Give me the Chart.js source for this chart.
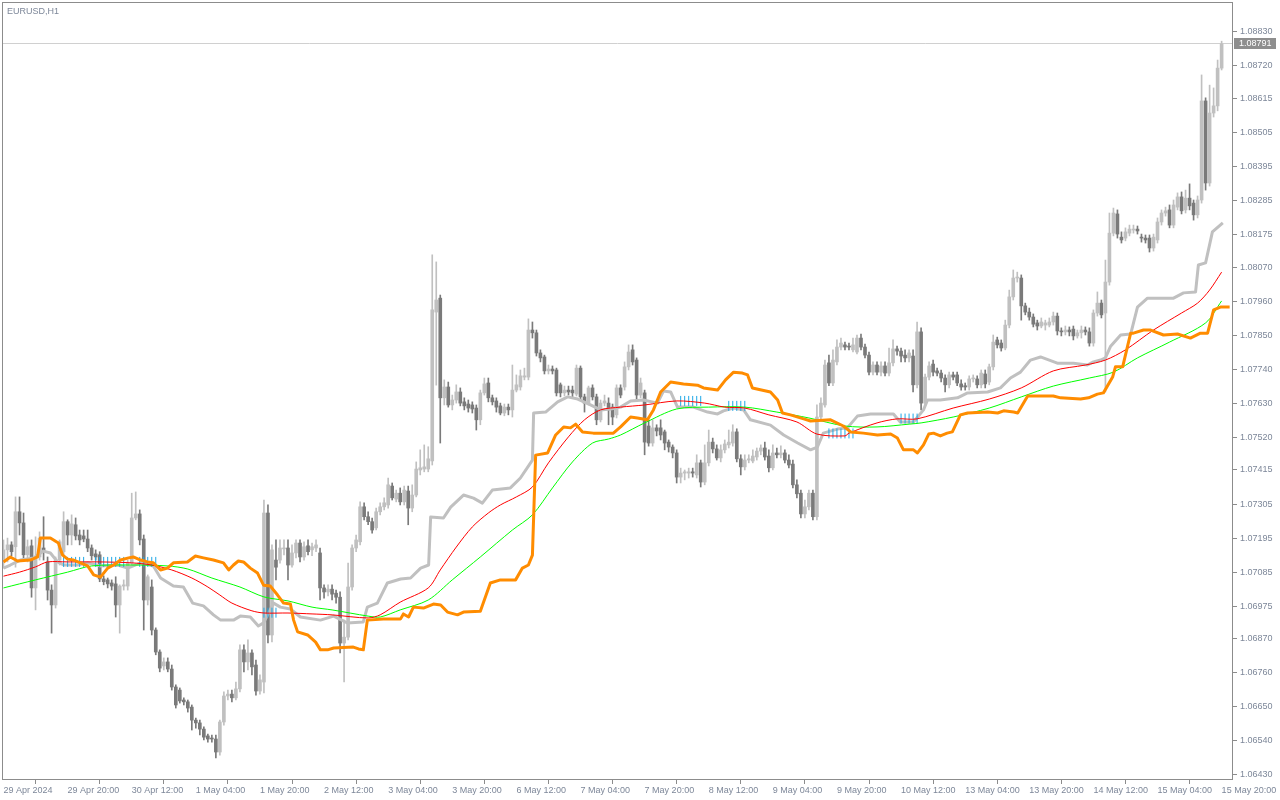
<!DOCTYPE html>
<html lang="en">
<head>
<meta charset="UTF-8">
<title>EURUSD,H1</title>
<script src="https://cdn.jsdelivr.net/npm/chart.js"></script>
<style>
  html, body { margin: 0; padding: 0; background: #ffffff; }
  #wrap { width: 1280px; height: 800px; }
</style>
</head>
<body>
<div id="wrap"><canvas id="chart" width="1280" height="800"></canvas></div>
<script>
// ---- data (EURUSD H1, 29 Apr 04:00 .. 15 May 20:00) ----
const symbolTitle = 'EURUSD,H1';

const xTickBars = [0, 16, 32, 48, 64, 80, 96, 112, 128, 144, 160, 176, 192, 208, 224, 240, 256, 272, 288, 304];
const xTickLabels = ['29 Apr 2024', '29 Apr 20:00', '30 Apr 12:00', '1 May 04:00', '1 May 20:00', '2 May 12:00',
  '3 May 04:00', '3 May 20:00', '6 May 12:00', '7 May 04:00', '7 May 20:00', '8 May 12:00', '9 May 04:00',
  '9 May 20:00', '10 May 12:00', '13 May 04:00', '13 May 20:00', '14 May 12:00', '15 May 04:00', '15 May 20:00'];

const yTickValues = [1.08830, 1.08720, 1.08615, 1.08505, 1.08395, 1.08285, 1.08175, 1.08070, 1.07960, 1.07850,
  1.07740, 1.07630, 1.07520, 1.07415, 1.07305, 1.07195, 1.07085, 1.06975, 1.06870, 1.06760, 1.06650, 1.06540, 1.06430];

const opens = [
1.07124,1.07157,1.07173,1.07167,1.07280,1.07244,1.07141,1.07170,1.07034,1.07134,
1.07163,1.07118,1.07027,1.06979,1.07124,1.07151,1.07248,1.07205,1.07238,1.07205,
1.07202,1.07192,1.07163,1.07144,1.07141,1.07063,1.07060,1.07050,1.07047,1.06979,
1.07040,1.07040,1.07114,1.07260,1.07273,1.07192,1.06995,1.07037,1.06898,1.06827,
1.06782,1.06795,1.06772,1.06714,1.06704,1.06672,1.06666,1.06649,1.06607,1.06598,
1.06578,1.06556,1.06549,1.06546,1.06504,1.06601,1.06685,1.06691,1.06679,1.06708,
1.06834,1.06795,1.06824,1.06785,1.06701,1.06730,1.07276,1.06882,1.07124,1.07124,
1.07160,1.07163,1.07108,1.07147,1.07179,1.07134,1.07170,1.07157,1.07163,1.07147,
1.07034,1.07021,1.07030,1.07017,1.07004,1.06856,1.06875,1.07037,1.07163,1.07183,
1.07296,1.07264,1.07248,1.07228,1.07280,1.07296,1.07302,1.07363,1.07321,1.07340,
1.07312,1.07347,1.07292,1.07334,1.07415,1.07418,1.07418,1.07444,1.07925,1.07970,
1.07648,1.07683,1.07625,1.07641,1.07667,1.07635,1.07628,1.07625,1.07615,1.07577,
1.07664,1.07696,1.07648,1.07638,1.07622,1.07599,1.07618,1.07609,1.07673,1.07683,
1.07715,1.07715,1.07867,1.07858,1.07793,1.07780,1.07735,1.07741,1.07738,1.07690,
1.07664,1.07673,1.07673,1.07660,1.07744,1.07651,1.07631,1.07680,1.07651,1.07577,
1.07631,1.07631,1.07618,1.07593,1.07680,1.07683,1.07748,1.07803,1.07770,1.07657,
1.07664,1.07557,1.07502,1.07551,1.07551,1.07538,1.07505,1.07489,1.07470,1.07392,
1.07405,1.07405,1.07409,1.07399,1.07438,1.07376,1.07438,1.07505,1.07483,1.07454,
1.07480,1.07496,1.07502,1.07538,1.07451,1.07425,1.07447,1.07444,1.07457,1.07476,
1.07486,1.07460,1.07422,1.07470,1.07464,1.07470,1.07447,1.07434,1.07367,1.07340,
1.07273,1.07296,1.07340,1.07264,1.07586,1.07625,1.07761,1.07696,1.07764,1.07812,
1.07819,1.07815,1.07803,1.07796,1.07841,1.07812,1.07786,1.07731,1.07754,1.07731,
1.07751,1.07728,1.07761,1.07806,1.07799,1.07786,1.07777,1.07783,1.07690,1.07861,
1.07631,1.07715,1.07757,1.07735,1.07728,1.07712,1.07690,1.07722,1.07722,1.07693,
1.07687,1.07683,1.07709,1.07709,1.07690,1.07725,1.07699,1.07748,1.07835,1.07825,
1.07809,1.07883,1.07974,1.08035,1.08035,1.07945,1.07925,1.07909,1.07890,1.07880,
1.07883,1.07883,1.07893,1.07912,1.07864,1.07861,1.07867,1.07870,1.07848,1.07858,
1.07867,1.07861,1.07825,1.07922,1.07954,1.07922,1.08022,1.08180,1.08242,1.08167,
1.08164,1.08180,1.08190,1.08193,1.08167,1.08164,1.08164,1.08132,1.08158,1.08216,
1.08245,1.08255,1.08206,1.08264,1.08297,1.08255,1.08293,1.08277,1.08239,1.08287,
1.08607,1.08342,1.08568,1.08591,1.08713];

const highs = [
1.07189,1.07195,1.07183,1.07328,1.07328,1.07276,1.07189,1.07189,1.07199,1.07215,
1.07264,1.07134,1.07044,1.07134,1.07189,1.07280,1.07254,1.07270,1.07260,1.07221,
1.07221,1.07221,1.07173,1.07157,1.07151,1.07073,1.07066,1.07060,1.07070,1.07044,
1.07060,1.07124,1.07340,1.07344,1.07286,1.07205,1.07076,1.07060,1.06905,1.06834,
1.06808,1.06808,1.06785,1.06721,1.06711,1.06679,1.06672,1.06656,1.06614,1.06607,
1.06585,1.06562,1.06559,1.06559,1.06607,1.06698,1.06704,1.06704,1.06730,1.06850,
1.06850,1.06866,1.06834,1.06801,1.06753,1.07318,1.07302,1.07173,1.07189,1.07189,
1.07189,1.07189,1.07173,1.07189,1.07189,1.07183,1.07189,1.07179,1.07189,1.07163,
1.07044,1.07044,1.07044,1.07027,1.07021,1.06930,1.07114,1.07173,1.07205,1.07312,
1.07309,1.07280,1.07260,1.07292,1.07309,1.07325,1.07389,1.07373,1.07350,1.07357,
1.07363,1.07363,1.07367,1.07441,1.07480,1.07496,1.07490,1.08110,1.08087,1.07980,
1.07706,1.07699,1.07657,1.07690,1.07680,1.07648,1.07641,1.07635,1.07625,1.07673,
1.07712,1.07712,1.07657,1.07648,1.07631,1.07628,1.07628,1.07754,1.07722,1.07738,
1.07744,1.07903,1.07893,1.07867,1.07803,1.07786,1.07754,1.07751,1.07744,1.07696,
1.07686,1.07686,1.07686,1.07754,1.07751,1.07660,1.07686,1.07690,1.07660,1.07641,
1.07657,1.07648,1.07628,1.07690,1.07690,1.07764,1.07819,1.07819,1.07777,1.07712,
1.07673,1.07577,1.07577,1.07561,1.07577,1.07544,1.07512,1.07496,1.07480,1.07421,
1.07415,1.07421,1.07421,1.07464,1.07447,1.07496,1.07544,1.07518,1.07496,1.07496,
1.07512,1.07544,1.07561,1.07548,1.07464,1.07464,1.07464,1.07480,1.07486,1.07496,
1.07505,1.07480,1.07496,1.07486,1.07493,1.07480,1.07464,1.07447,1.07383,1.07350,
1.07318,1.07350,1.07350,1.07625,1.07648,1.07770,1.07786,1.07803,1.07835,1.07841,
1.07828,1.07825,1.07841,1.07851,1.07854,1.07822,1.07796,1.07764,1.07764,1.07764,
1.07764,1.07809,1.07835,1.07815,1.07809,1.07803,1.07803,1.07803,1.07893,1.07874,
1.07725,1.07764,1.07770,1.07744,1.07738,1.07722,1.07731,1.07731,1.07731,1.07706,
1.07696,1.07719,1.07722,1.07719,1.07738,1.07738,1.07757,1.07851,1.07844,1.07835,
1.07899,1.07996,1.08061,1.08054,1.08045,1.07954,1.07938,1.07919,1.07899,1.07906,
1.07899,1.07906,1.07925,1.07922,1.07874,1.07880,1.07877,1.07880,1.07867,1.07880,
1.07877,1.07874,1.07932,1.07990,1.07964,1.08093,1.08245,1.08261,1.08255,1.08184,
1.08197,1.08206,1.08206,1.08203,1.08177,1.08174,1.08174,1.08177,1.08229,1.08255,
1.08264,1.08271,1.08287,1.08310,1.08313,1.08319,1.08339,1.08287,1.08300,1.08691,
1.08617,1.08658,1.08649,1.08739,1.08800];

const lows = [
1.07098,1.07118,1.07138,1.07101,1.07205,1.07124,1.07118,1.07004,1.06963,1.07124,
1.07124,1.06995,1.06888,1.06969,1.07108,1.07141,1.07173,1.07173,1.07189,1.07173,
1.07183,1.07151,1.07124,1.07124,1.07054,1.07044,1.07034,1.07027,1.06940,1.06888,
1.07027,1.07027,1.07108,1.07254,1.07173,1.06898,1.06979,1.06882,1.06818,1.06763,
1.06769,1.06763,1.06704,1.06646,1.06662,1.06656,1.06633,1.06575,1.06581,1.06559,
1.06543,1.06536,1.06536,1.06485,1.06494,1.06591,1.06672,1.06666,1.06672,1.06698,
1.06763,1.06769,1.06753,1.06688,1.06691,1.06695,1.06856,1.06860,1.07060,1.07114,
1.07141,1.07060,1.07101,1.07131,1.07118,1.07124,1.07141,1.07138,1.07151,1.06995,
1.07001,1.07008,1.06995,1.06985,1.06824,1.06730,1.06866,1.07027,1.07151,1.07173,
1.07254,1.07238,1.07211,1.07221,1.07270,1.07286,1.07292,1.07318,1.07312,1.07302,
1.07302,1.07238,1.07280,1.07328,1.07399,1.07409,1.07409,1.07431,1.07689,1.07502,
1.07625,1.07618,1.07609,1.07631,1.07622,1.07609,1.07602,1.07599,1.07544,1.07561,
1.07657,1.07635,1.07625,1.07602,1.07593,1.07590,1.07593,1.07586,1.07667,1.07673,
1.07706,1.07706,1.07841,1.07783,1.07764,1.07725,1.07725,1.07725,1.07654,1.07651,
1.07654,1.07657,1.07648,1.07654,1.07641,1.07602,1.07625,1.07641,1.07561,1.07570,
1.07622,1.07561,1.07561,1.07583,1.07648,1.07673,1.07738,1.07754,1.07641,1.07648,
1.07464,1.07492,1.07492,1.07525,1.07512,1.07480,1.07473,1.07454,1.07373,1.07373,
1.07383,1.07389,1.07392,1.07389,1.07360,1.07367,1.07428,1.07470,1.07447,1.07441,
1.07470,1.07486,1.07492,1.07441,1.07399,1.07415,1.07438,1.07438,1.07447,1.07464,
1.07447,1.07409,1.07415,1.07454,1.07454,1.07438,1.07422,1.07357,1.07325,1.07260,
1.07260,1.07286,1.07254,1.07254,1.07577,1.07618,1.07687,1.07687,1.07754,1.07803,
1.07803,1.07803,1.07796,1.07790,1.07803,1.07777,1.07722,1.07722,1.07722,1.07719,
1.07719,1.07719,1.07751,1.07786,1.07764,1.07764,1.07764,1.07667,1.07680,1.07609,
1.07622,1.07706,1.07719,1.07719,1.07699,1.07667,1.07680,1.07706,1.07687,1.07673,
1.07673,1.07673,1.07699,1.07680,1.07680,1.07680,1.07690,1.07738,1.07809,1.07799,
1.07803,1.07874,1.07964,1.08022,1.07899,1.07916,1.07899,1.07877,1.07867,1.07874,
1.07867,1.07877,1.07883,1.07851,1.07848,1.07851,1.07848,1.07835,1.07841,1.07841,
1.07851,1.07815,1.07815,1.07912,1.07906,1.07667,1.08012,1.08171,1.08164,1.08148,
1.08155,1.08171,1.08180,1.08177,1.08151,1.08148,1.08119,1.08122,1.08148,1.08206,
1.08235,1.08197,1.08197,1.08255,1.08242,1.08245,1.08255,1.08222,1.08229,1.08277,
1.08319,1.08332,1.08555,1.08575,1.08707];

const closes = [
1.07157,1.07173,1.07151,1.07280,1.07244,1.07141,1.07167,1.07034,1.07134,1.07195,
1.07151,1.07027,1.06979,1.07124,1.07183,1.07248,1.07205,1.07241,1.07202,1.07189,
1.07192,1.07163,1.07138,1.07134,1.07063,1.07054,1.07047,1.07040,1.06979,1.07040,
1.07044,1.07114,1.07260,1.07273,1.07189,1.06995,1.07070,1.06898,1.06827,1.06775,
1.06795,1.06772,1.06714,1.06656,1.06669,1.06666,1.06646,1.06607,1.06598,1.06578,
1.06552,1.06546,1.06546,1.06504,1.06601,1.06685,1.06691,1.06679,1.06708,1.06834,
1.06795,1.06824,1.06779,1.06701,1.06737,1.07276,1.06882,1.07157,1.07101,1.07163,
1.07163,1.07108,1.07147,1.07179,1.07134,1.07167,1.07151,1.07167,1.07173,1.07034,
1.07021,1.07030,1.07014,1.07004,1.06856,1.06875,1.07037,1.07163,1.07189,1.07296,
1.07264,1.07248,1.07221,1.07280,1.07296,1.07309,1.07367,1.07325,1.07340,1.07312,
1.07350,1.07292,1.07334,1.07418,1.07422,1.07425,1.07451,1.07932,1.07964,1.07648,
1.07683,1.07625,1.07641,1.07667,1.07631,1.07622,1.07615,1.07612,1.07577,1.07664,
1.07693,1.07648,1.07635,1.07618,1.07599,1.07618,1.07609,1.07673,1.07690,1.07719,
1.07719,1.07867,1.07858,1.07793,1.07777,1.07735,1.07741,1.07735,1.07664,1.07664,
1.07673,1.07667,1.07664,1.07744,1.07651,1.07631,1.07680,1.07651,1.07577,1.07631,
1.07638,1.07609,1.07586,1.07680,1.07657,1.07748,1.07796,1.07764,1.07657,1.07696,
1.07505,1.07502,1.07551,1.07541,1.07528,1.07502,1.07489,1.07470,1.07392,1.07405,
1.07409,1.07409,1.07405,1.07438,1.07376,1.07438,1.07505,1.07483,1.07454,1.07480,
1.07499,1.07505,1.07538,1.07451,1.07425,1.07447,1.07451,1.07460,1.07476,1.07486,
1.07457,1.07422,1.07470,1.07464,1.07470,1.07447,1.07431,1.07367,1.07338,1.07273,
1.07296,1.07340,1.07264,1.07586,1.07631,1.07754,1.07696,1.07770,1.07812,1.07825,
1.07812,1.07812,1.07819,1.07841,1.07812,1.07786,1.07731,1.07754,1.07731,1.07751,
1.07728,1.07761,1.07806,1.07799,1.07783,1.07777,1.07793,1.07690,1.07861,1.07631,
1.07715,1.07751,1.07731,1.07728,1.07712,1.07690,1.07722,1.07715,1.07696,1.07683,
1.07683,1.07709,1.07712,1.07690,1.07728,1.07693,1.07748,1.07828,1.07819,1.07809,
1.07883,1.07974,1.08035,1.08038,1.07945,1.07925,1.07909,1.07886,1.07880,1.07893,
1.07890,1.07893,1.07912,1.07864,1.07861,1.07867,1.07861,1.07848,1.07858,1.07867,
1.07861,1.07825,1.07922,1.07954,1.07916,1.08022,1.08180,1.08245,1.08177,1.08158,
1.08184,1.08193,1.08193,1.08187,1.08164,1.08158,1.08132,1.08167,1.08216,1.08245,
1.08252,1.08206,1.08271,1.08297,1.08252,1.08293,1.08268,1.08239,1.08287,1.08607,
1.08342,1.08568,1.08591,1.08713,1.08791];

// fast moving average (red)
const redBars = [0,4,8,11,16,24,32,37,42,47,51,54,57,62,65,71,77,82,91,94,99,106,109,113,117,121,124,128,132,136,
  141,145,149,154,160,168,175,180,185,191,198,203,210,211,218,223,228,237,246,254,262,270,275,280,287,294,298,301,304];
const redValues = [1.07072,1.07085,1.07102,1.07118,1.07118,1.07118,1.07115,1.07108,1.07092,1.07066,
  1.07037,1.07011,1.06985,1.06960,1.06953,1.06953,1.06950,1.06947,1.06937,1.06947,
  1.06988,1.07034,1.07092,1.07166,1.07231,1.07276,1.07302,1.07328,1.07360,1.07438,
  1.07522,1.07577,1.07609,1.07618,1.07625,1.07638,1.07631,1.07618,1.07615,1.07593,
  1.07570,1.07531,1.07525,1.07534,1.07567,1.07580,1.07580,1.07615,1.07644,1.07680,
  1.07735,1.07754,1.07770,1.07803,1.07867,1.07922,1.07954,1.07996,1.08054];

// slow moving average (green)
const greenBars = [0,8,16,22,32,41,46,52,59,65,71,77,82,91,94,99,106,112,119,127,132,137,142,147,151,154,160,168,176,185,
  193,201,210,218,226,229,237,246,254,262,271,277,283,291,300,304];
const greenValues = [1.07034,1.07060,1.07085,1.07105,1.07108,1.07105,1.07095,1.07066,1.07037,1.07005,
  1.06992,1.06972,1.06963,1.06943,1.06940,1.06963,1.06995,1.07060,1.07134,1.07221,
  1.07270,1.07357,1.07441,1.07502,1.07515,1.07528,1.07567,1.07612,1.07618,1.07618,
  1.07602,1.07583,1.07557,1.07554,1.07563,1.07567,1.07586,1.07615,1.07651,1.07686,
  1.07712,1.07731,1.07777,1.07828,1.07890,1.07961];

// silver trailing line
const grayBars = [0,1.7,4.2,7.5,10,11.7,13.5,15,18.5,21,24.2,28.5,31,34.2,37.4,39.2,42.4,44.9,47.2,49.9,
  52.4,54.2,57.4,59.1,61.6,63.6,64.9,67.4,69.1,71.6,74.1,79.1,82.4,85.8,89.8,90.8,93.3,95.8,99.1,101.6,
  104.1,106.1,106.6,109.8,111.6,114.8,117.3,119.5,122,126.5,129,132,132.3,135.3,138.3,140.8,143.3,146.5,149,151.5,
  154,156.5,159.7,163.2,164.7,166.5,168.2,172.2,175.7,178.2,179.7,182.2,184.7,186.4,191.4,194.7,198.2,201.4,203.1,204.6,
  208.1,210.6,213.1,216.4,222.1,223.8,227.1,229.6,230.6,233.8,238.1,240.6,245.6,248.8,251.3,253.8,256.3,258.8,263,267,
  270.5,272,273.8,275,276.3,278.8,281.3,283,285.5,292,294.5,297.5,298.2,300,301.7,304.3];
const grayValues = [1.07098,1.07108,1.07124,1.07131,1.07153,1.07147,1.07118,1.07108,1.07108,1.07115,
  1.07105,1.07108,1.07098,1.07115,1.07105,1.07066,1.07040,1.07037,1.06985,1.06976,
  1.06947,1.06930,1.06930,1.06943,1.06940,1.06911,1.06921,1.06985,1.06972,1.06966,
  1.06940,1.06930,1.06943,1.06921,1.06924,1.06972,1.06985,1.07050,1.07063,1.07066,
  1.07098,1.07108,1.07263,1.07260,1.07295,1.07334,1.07324,1.07308,1.07350,1.07357,
  1.07389,1.07447,1.07599,1.07602,1.07635,1.07651,1.07644,1.07625,1.07609,1.07612,
  1.07618,1.07638,1.07641,1.07631,1.07670,1.07667,1.07618,1.07618,1.07602,1.07596,
  1.07606,1.07615,1.07609,1.07577,1.07560,1.07528,1.07502,1.07480,1.07489,1.07534,
  1.07547,1.07551,1.07589,1.07596,1.07596,1.07570,1.07570,1.07609,1.07641,1.07641,
  1.07648,1.07664,1.07667,1.07680,1.07712,1.07731,1.07770,1.07780,1.07760,1.07760,
  1.07754,1.07764,1.07770,1.07777,1.07815,1.07851,1.07854,1.07941,1.07970,1.07970,
  1.07987,1.07990,1.08077,1.08084,1.08184,1.08213];

// orange channel line
const orangeBars = [0,1.7,3.5,6.7,8.5,9.2,11.7,13.7,14.7,16,17.5,19.2,21,22.5,24.2,26,27.5,29.2,31.2,32.4,
  34.2,35.9,37.4,39.2,40.9,42.4,45.9,47.9,49.9,52.4,54.9,56.2,57.4,58.6,59.9,61.6,63.4,64.9,66.6,68.4,
  69.9,71.6,72.4,73.4,75.9,77.9,79.1,80.9,82.4,87.3,88.6,89.8,90.8,94.8,99.1,99.8,101.1,102.3,104.8,107.3,
  109.1,110.8,113.3,114.8,119,121.5,124,127.8,129.5,131,132,132.8,135.8,137.8,139.8,141.5,142.8,144.5,147.2,152.2,
  154,156.5,158.2,160.7,162.2,164,166.5,169.7,173.2,174.7,178.2,180.2,182.2,184.4,185.7,186.9,191.4,193.2,194.4,196.4,
  199.7,201.4,206.4,209.6,211.4,214.6,218.1,221.4,223.1,224.6,227.1,228.1,229.6,230.9,232.1,233.8,235.5,236.8,238.8,240.6,
  245.6,248.1,249.6,252.1,253.1,255.6,262,263.8,268.8,270.8,273,274.5,276.8,277.5,279.3,281.3,282,284.5,286.3,289.5,
  293,296.2,298.7,300.5,302,303.7,306];
const orangeValues = [1.07118,1.07134,1.07121,1.07124,1.07134,1.07195,1.07195,1.07179,1.07141,1.07127,
  1.07124,1.07115,1.07105,1.07076,1.07069,1.07098,1.07108,1.07124,1.07131,1.07134,
  1.07124,1.07118,1.07115,1.07092,1.07098,1.07115,1.07118,1.07137,1.07131,1.07124,
  1.07115,1.07092,1.07108,1.07121,1.07118,1.07098,1.07082,1.07043,1.07040,1.07011,
  1.06985,1.06982,1.06930,1.06892,1.06882,1.06859,1.06834,1.06834,1.06840,1.06843,
  1.06837,1.06834,1.06930,1.06934,1.06934,1.06950,1.06940,1.06972,1.06969,1.06982,
  1.06979,1.06956,1.06947,1.06956,1.06959,1.07050,1.07060,1.07060,1.07098,1.07108,
  1.07140,1.07463,1.07470,1.07528,1.07554,1.07551,1.07563,1.07538,1.07534,1.07534,
  1.07554,1.07586,1.07583,1.07577,1.07609,1.07667,1.07699,1.07693,1.07689,1.07680,
  1.07673,1.07706,1.07731,1.07728,1.07722,1.07680,1.07667,1.07641,1.07599,1.07593,
  1.07580,1.07573,1.07577,1.07557,1.07538,1.07534,1.07528,1.07531,1.07518,1.07480,
  1.07480,1.07470,1.07496,1.07531,1.07534,1.07525,1.07534,1.07538,1.07593,1.07599,
  1.07602,1.07599,1.07606,1.07602,1.07599,1.07654,1.07654,1.07648,1.07644,1.07648,
  1.07660,1.07664,1.07715,1.07748,1.07748,1.07857,1.07857,1.07867,1.07867,1.07851,
  1.07854,1.07841,1.07857,1.07857,1.07932,1.07941,1.07941];

// blue marks
const markBars = [15,16,17,18,19,20,23,24,25,26,27,28,29,30,34,35,36,37,38,65,66,67,68,
  169,170,171,172,173,174,181,182,183,184,185,206,207,208,209,210,211,212,224,225,226,227,228];
const markValues = [1.07118,1.07118,1.07118,1.07118,1.07118,1.07118,1.07118,1.07118,1.07118,1.07118,
  1.07118,1.07118,1.07118,1.07118,1.07118,1.07118,1.07118,1.07118,1.07118,
  1.06954,1.06954,1.06954,1.06954,
  1.07638,1.07638,1.07638,1.07638,1.07638,1.07638,
  1.07622,1.07622,1.07622,1.07622,1.07622,
  1.07533,1.07533,1.07533,1.07533,1.07533,1.07533,1.07533,
  1.07581,1.07581,1.07581,1.07581,1.07581];

// ---- styles ----
const fontFamily = '"Liberation Sans", Arial, sans-serif';
const frameColor = '#8c8c8c';
const labelColor = '#7d8799';
const upColor = '#c0c0c0';
const downColor = '#7a7a7a';
const lastPrice = closes[closes.length - 1];

const candleColors = opens.map((o, i) => closes[i] >= o ? upColor : downColor);
const wickData = highs.map((h, i) => ({ x: i, y: [lows[i], h] }));
const bodyData = opens.map((o, i) => ({ x: i, y: [o, closes[i]] }));
const toPoints = (xs, ys) => xs.map((x, k) => ({ x: x, y: ys[k] }));

const decorPlugin = {
    id: 'terminalDecor',
    beforeDraw(chart) {
        const ctx = chart.ctx;
        ctx.save();
        ctx.fillStyle = '#ffffff';
        ctx.fillRect(0, 0, chart.width, chart.height);
        ctx.restore();
    },
    beforeDatasetsDraw(chart) {
        const { ctx, chartArea } = chart;
        const y = Math.round(chart.scales.y.getPixelForValue(lastPrice)) - 0.5;
        ctx.save();
        ctx.strokeStyle = '#d0d0d0';
        ctx.lineWidth = 1;
        ctx.beginPath();
        ctx.moveTo(chartArea.left, y);
        ctx.lineTo(chartArea.right, y);
        ctx.stroke();
        ctx.restore();
    },
    afterDraw(chart) {
        const { ctx, chartArea } = chart;
        ctx.save();
        // frame
        ctx.strokeStyle = frameColor;
        ctx.lineWidth = 1;
        ctx.strokeRect(chartArea.left + 0.5, chartArea.top + 0.5,
            chartArea.right - chartArea.left - 1, chartArea.bottom - chartArea.top - 1);
        // symbol caption
        ctx.font = '9px ' + fontFamily;
        ctx.fillStyle = labelColor;
        ctx.textBaseline = 'middle';
        ctx.textAlign = 'left';
        ctx.fillText(symbolTitle, 7, 12);
        // last price marker
        const y = Math.round(chart.scales.y.getPixelForValue(lastPrice));
        ctx.fillStyle = '#8e8e8e';
        ctx.fillRect(chartArea.right + 1, y - 6, 42, 11);
        ctx.fillStyle = '#ffffff';
        ctx.fillText(lastPrice.toFixed(5), chartArea.right + 6, y);
        ctx.restore();
    }
};

new Chart(document.getElementById('chart'), {
    type: 'bar',
    data: {
        datasets: [
            {
                label: 'wicks', data: wickData, backgroundColor: candleColors,
                barThickness: 1, grouped: false, minBarLength: 1, borderWidth: 0, order: 10
            },
            {
                label: 'bodies', data: bodyData, backgroundColor: candleColors,
                barThickness: 3, grouped: false, minBarLength: 1, borderWidth: 0, order: 9
            },
            {
                type: 'line', label: 'silver', data: toPoints(grayBars, grayValues),
                borderColor: '#c0c0c0', borderWidth: 3, pointRadius: 0, tension: 0,
                borderJoinStyle: 'round', order: 6
            },
            {
                type: 'line', label: 'marks', data: toPoints(markBars, markValues), showLine: false,
                pointStyle: 'line', rotation: 90, pointRadius: 5, pointBorderWidth: 1,
                pointBorderColor: '#1ea7e6', borderColor: '#1ea7e6', order: 5
            },
            {
                type: 'line', label: 'slow', data: toPoints(greenBars, greenValues),
                borderColor: '#00ff00', borderWidth: 1, pointRadius: 0, tension: 0.3, order: 4
            },
            {
                type: 'line', label: 'fast', data: toPoints(redBars, redValues),
                borderColor: '#ff0000', borderWidth: 1, pointRadius: 0, tension: 0.3, order: 3
            },
            {
                type: 'line', label: 'channel', data: toPoints(orangeBars, orangeValues),
                borderColor: '#ff8c00', borderWidth: 3, pointRadius: 0, tension: 0,
                borderJoinStyle: 'round', order: 2
            }
        ]
    },
    options: {
        responsive: false,
        animation: false,
        devicePixelRatio: 1,
        events: [],
        layout: { autoPadding: false, padding: { left: 2, top: 2, right: 0, bottom: 0 } },
        plugins: { legend: { display: false }, tooltip: { enabled: false } },
        scales: {
            x: {
                type: 'linear',
                offset: false,
                min: -0.374,
                max: 306.84,
                afterBuildTicks: (scale) => { scale.ticks = xTickBars.map(v => ({ value: v })); },
                afterFit: (scale) => {
                    scale.height = 20;
                    scale.paddingLeft = 0; scale.paddingRight = 0;
                },
                grid: { drawOnChartArea: false, drawTicks: true, tickLength: 4, color: frameColor },
                border: { display: false },
                ticks: {
                    autoSkip: false, maxRotation: 0, minRotation: 0, align: 'start', padding: 1,
                    color: labelColor, font: { family: fontFamily, size: 9 },
                    callback: (value, index) => xTickLabels[index]
                }
            },
            y: {
                type: 'linear',
                position: 'right',
                min: 1.0641360,
                max: 1.0892654,
                afterBuildTicks: (scale) => { scale.ticks = yTickValues.map(v => ({ value: v })); },
                afterFit: (scale) => {
                    scale.width = 47;
                    scale.paddingTop = 0; scale.paddingBottom = 0;
                },
                grid: { drawOnChartArea: false, drawTicks: true, tickLength: 4, color: frameColor },
                border: { display: false },
                ticks: {
                    autoSkip: false, padding: 3,
                    color: labelColor, font: { family: fontFamily, size: 9 },
                    callback: (value) => Number(value).toFixed(5)
                }
            }
        }
    },
    plugins: [decorPlugin]
});
</script>
</body>
</html>
